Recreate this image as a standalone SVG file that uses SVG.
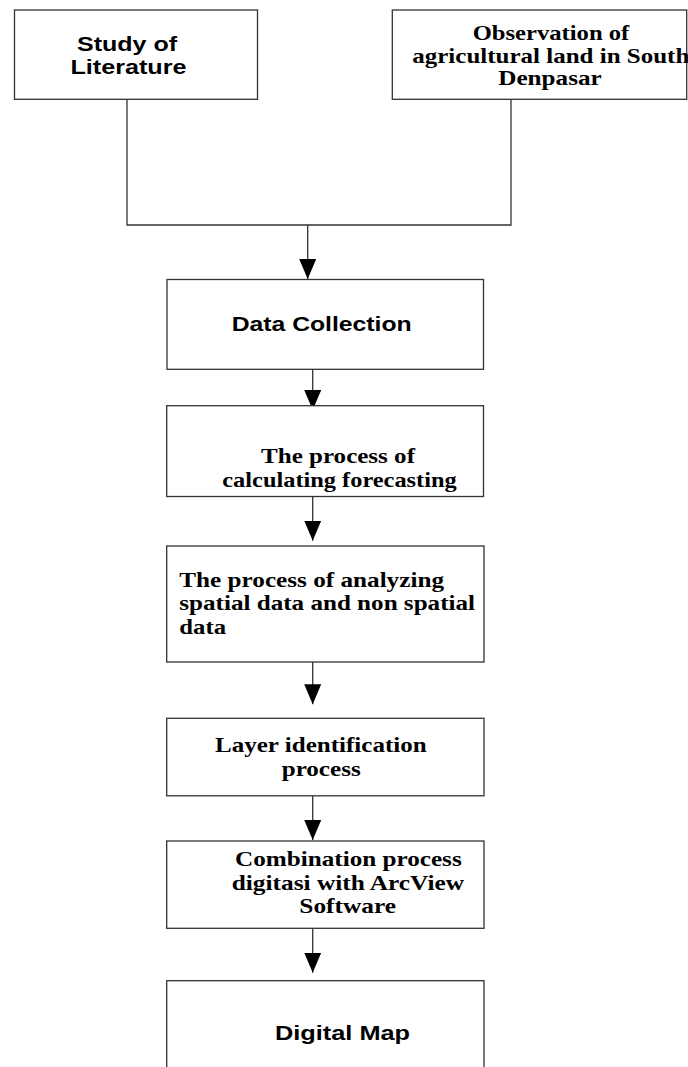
<svg xmlns="http://www.w3.org/2000/svg" width="688" height="1067" viewBox="0 0 688 1067">
<style>
.box{fill:#fff;stroke:#333;stroke-width:1.3}
.conn{fill:none;stroke:#333;stroke-width:1.3}
.sans{font-family:"Liberation Sans",Arial,sans-serif;font-weight:bold;font-size:20px;fill:#000}
.serif{font-family:"Liberation Serif","Times New Roman",serif;font-weight:bold;font-size:22px;fill:#000}
</style>
<defs>
<marker id="ah" markerUnits="userSpaceOnUse" viewBox="0 0 20 17" refX="20" refY="8.5" markerWidth="20" markerHeight="17" orient="auto">
<path d="M0,0 L20,8.5 L0,17 Z" fill="#000"/>
</marker>
</defs>
<rect width="688" height="1067" fill="#fff"/>
<g id="connectors">
<path class="conn" d="M127,99.3 V225 H511 V99.3"/>
<path class="conn" d="M307.7,225 V279" marker-end="url(#ah)"/>
<path class="conn" d="M312.7,369.3 V410" marker-end="url(#ah)"/>
<path class="conn" d="M312.7,496.5 V540.7" marker-end="url(#ah)"/>
<path class="conn" d="M312.7,662 V704.3" marker-end="url(#ah)"/>
<path class="conn" d="M312.7,795.8 V840" marker-end="url(#ah)"/>
<path class="conn" d="M312.7,928.3 V972.7" marker-end="url(#ah)"/>
</g>
<g id="study">
<rect class="box" x="14.5" y="10" width="243" height="89.3"/>
<text class="sans" font-size="21" x="77" y="50.5" textLength="100" lengthAdjust="spacingAndGlyphs">Study of</text>
<text class="sans" font-size="21" x="70.5" y="73.5" textLength="116" lengthAdjust="spacingAndGlyphs">Literature</text>
</g>
<g id="observation">
<rect class="box" x="392.3" y="10" width="294.4" height="89.3"/>
<text class="serif" x="472.7" y="40" textLength="156.6" lengthAdjust="spacingAndGlyphs">Observation of</text>
<text class="serif" x="412.3" y="62.5" textLength="277" lengthAdjust="spacingAndGlyphs">agricultural land in South</text>
<text class="serif" x="498.3" y="85" textLength="103.4" lengthAdjust="spacingAndGlyphs">Denpasar</text>
</g>
<g id="data-collection">
<rect class="box" x="167" y="279.5" width="316.5" height="89.8"/>
<text class="sans" font-size="19" x="231.7" y="330.7" textLength="180" lengthAdjust="spacingAndGlyphs">Data Collection</text>
</g>
<g id="forecasting">
<rect class="box" x="166.7" y="405.7" width="316.8" height="90.8"/>
<text class="serif" x="261" y="463" textLength="154" lengthAdjust="spacingAndGlyphs">The process of</text>
<text class="serif" x="222.3" y="487" textLength="234.4" lengthAdjust="spacingAndGlyphs">calculating forecasting</text>
</g>
<g id="analyzing">
<rect class="box" x="166.7" y="546" width="317.3" height="116"/>
<text class="serif" x="179.3" y="586.7" textLength="264.7" lengthAdjust="spacingAndGlyphs">The process of analyzing</text>
<text class="serif" x="179.3" y="610" textLength="295.7" lengthAdjust="spacingAndGlyphs">spatial data and non spatial</text>
<text class="serif" x="179.3" y="634" textLength="46.7" lengthAdjust="spacingAndGlyphs">data</text>
</g>
<g id="layer">
<rect class="box" x="166.7" y="718.3" width="317.3" height="77.5"/>
<text class="serif" x="215" y="752" textLength="211.7" lengthAdjust="spacingAndGlyphs">Layer identification</text>
<text class="serif" x="281.7" y="776" textLength="79" lengthAdjust="spacingAndGlyphs">process</text>
</g>
<g id="combination">
<rect class="box" x="166.7" y="841" width="317.3" height="87.3"/>
<text class="serif" x="235" y="866" textLength="226.7" lengthAdjust="spacingAndGlyphs">Combination process</text>
<text class="serif" x="231.7" y="889.5" textLength="232.3" lengthAdjust="spacingAndGlyphs">digitasi with ArcView</text>
<text class="serif" x="299.3" y="913.3" textLength="96.7" lengthAdjust="spacingAndGlyphs">Software</text>
</g>
<g id="digital-map">
<rect class="box" x="166.7" y="980.7" width="317.3" height="110"/>
<text class="sans" font-size="19" x="275" y="1040" textLength="135" lengthAdjust="spacingAndGlyphs">Digital Map</text>
</g>
</svg>
